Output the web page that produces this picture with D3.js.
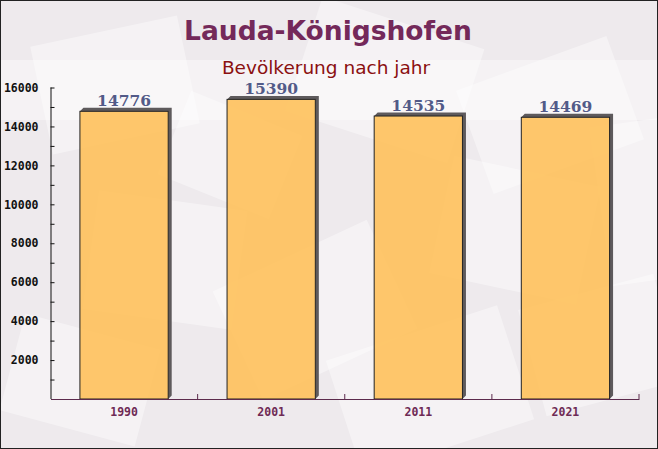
<!DOCTYPE html>
<html>
<head>
<meta charset="utf-8">
<script src="https://cdn.jsdelivr.net/npm/d3@7"></script>
<style>
  body { margin: 0; }
  svg { display: block; }
</style>
</head>
<body>
<div id="chart"></div>
<script>
const years = ['1990', '2001', '2011', '2021'];
const population = [14776, 15390, 14535, 14469];
const yTicks = [2000, 4000, 6000, 8000, 10000, 12000, 14000, 16000];

const W = 658, H = 449;
const margin = { top: 87.5, right: 19, bottom: 50, left: 50.5 };

const svg = d3.select('#chart')
    .append('svg')
    .attr('width', W)
    .attr('height', H);

// background
svg.append('rect')
    .attr('width', W).attr('height', H)
    .attr('fill', '#eeeaed');

// faint envelope shapes in the background
const deco = [
    [40, 30, 150, 110, -12], [300, 20, 170, 120, 18], [470, 60, 160, 110, -20],
    [90, 200, 150, 120, 8], [230, 250, 170, 120, -25], [440, 170, 150, 120, 12],
    [530, 290, 140, 110, -15], [10, 330, 140, 100, 15], [340, 330, 180, 120, -18],
    [170, 110, 120, 90, 22], [600, 120, 100, 160, -8], [0, 60, 660, 60, 0]
];
svg.append('g').selectAll('rect')
    .data(deco)
    .join('rect')
    .attr('x', d => d[0]).attr('y', d => d[1])
    .attr('width', d => d[2]).attr('height', d => d[3])
    .attr('transform', d => `rotate(${d[4]},${d[0] + d[2] / 2},${d[1] + d[3] / 2})`)
    .attr('fill', '#ffffff')
    .attr('opacity', 0.4);

const x = d3.scaleBand()
    .domain(years)
    .range([margin.left, W - margin.right])
    .paddingInner(0.4)
    .paddingOuter(0.2);

const y = d3.scaleLinear()
    .domain([0, 16000])
    .range([H - margin.bottom, margin.top]);

// 3d side of the bars (top and right strips only)
const off = 3.5;
svg.append('g').selectAll('path')
    .data(population)
    .join('path')
    .attr('d', (d, i) => {
        const x0 = x(years[i]), x1 = x0 + x.bandwidth();
        const yt = y(d), yb = y(0);
        return `M${x0},${yt}L${x0 + off},${yt - off}L${x1 + off},${yt - off}` +
            `L${x1 + off},${yb - off}L${x1},${yb}L${x1},${yt}Z`;
    })
    .attr('fill', '#5e5a5c');

svg.append('g').selectAll('rect')
    .data(population)
    .join('rect')
    .attr('x', (d, i) => x(years[i]))
    .attr('y', d => y(d))
    .attr('width', x.bandwidth())
    .attr('height', d => y(0) - y(d))
    .attr('fill', '#ffbe52')
    .attr('fill-opacity', 0.85)
    .attr('stroke', '#222')
    .attr('stroke-width', 1);

// value labels
svg.append('g').selectAll('text')
    .data(population)
    .join('text')
    .attr('x', (d, i) => x(years[i]) + x.bandwidth() / 2)
    .attr('y', d => y(d) - 5)
    .attr('text-anchor', 'middle')
    .style('font-family', '"DejaVu Serif", serif')
    .style('font-weight', 'bold')
    .style('font-size', '15.5px')
    .attr('fill', '#525a88')
    .text(d => d);

// y axis
const yAxis = svg.append('g')
    .attr('transform', `translate(${margin.left},0)`)
    .call(d3.axisLeft(y).tickValues(d3.range(1000, 16001, 1000)).tickSize(-4).tickPadding(12)
        .tickFormat(d => yTicks.includes(d) ? d : ''));
yAxis.select('.domain').attr('stroke', '#111').attr('d', `M0.5,${y(16000)}V${y(0)}`);
yAxis.selectAll('.tick line').attr('stroke', '#111');
yAxis.selectAll('text')
    .style('font-family', '"DejaVu Sans Mono", monospace')
    .style('font-weight', 'bold')
    .style('font-size', '11.5px')
    .attr('fill', '#111');

// x axis
const xAxis = svg.append('g')
    .attr('transform', `translate(0,${y(0)})`)
    .call(d3.axisBottom(x).tickSize(0).tickPadding(9));
xAxis.select('.domain').attr('stroke', '#5c2a4c');
xAxis.selectAll('text')
    .style('font-family', '"DejaVu Sans Mono", monospace')
    .style('font-weight', 'bold')
    .style('font-size', '11.5px')
    .attr('fill', '#6e2a55');

// category separators
svg.append('g').selectAll('line')
    .data(years)
    .join('line')
    .attr('x1', d => x(d) + x.bandwidth() + x.step() * 0.2)
    .attr('x2', d => x(d) + x.bandwidth() + x.step() * 0.2)
    .attr('y1', y(0))
    .attr('y2', y(0) - 5)
    .attr('stroke', '#5c2a4c');

// titles
svg.append('text')
    .attr('x', 328).attr('y', 40)
    .attr('text-anchor', 'middle')
    .style('font-family', '"DejaVu Sans", Verdana, sans-serif')
    .style('font-weight', 'bold')
    .style('font-size', '26.5px')
    .attr('fill', '#74295a')
    .text('Lauda-Königshofen');

svg.append('text')
    .attr('x', 326).attr('y', 74)
    .attr('text-anchor', 'middle')
    .style('font-family', '"DejaVu Sans", Verdana, sans-serif')
    .style('font-size', '18.5px')
    .attr('fill', '#8b1111')
    .text('Bevölkerung nach jahr');

// border
svg.append('rect')
    .attr('x', 0.5).attr('y', 0.5)
    .attr('width', W - 1).attr('height', H - 1)
    .attr('fill', 'none')
    .attr('stroke', '#222');
</script>
</body>
</html>
